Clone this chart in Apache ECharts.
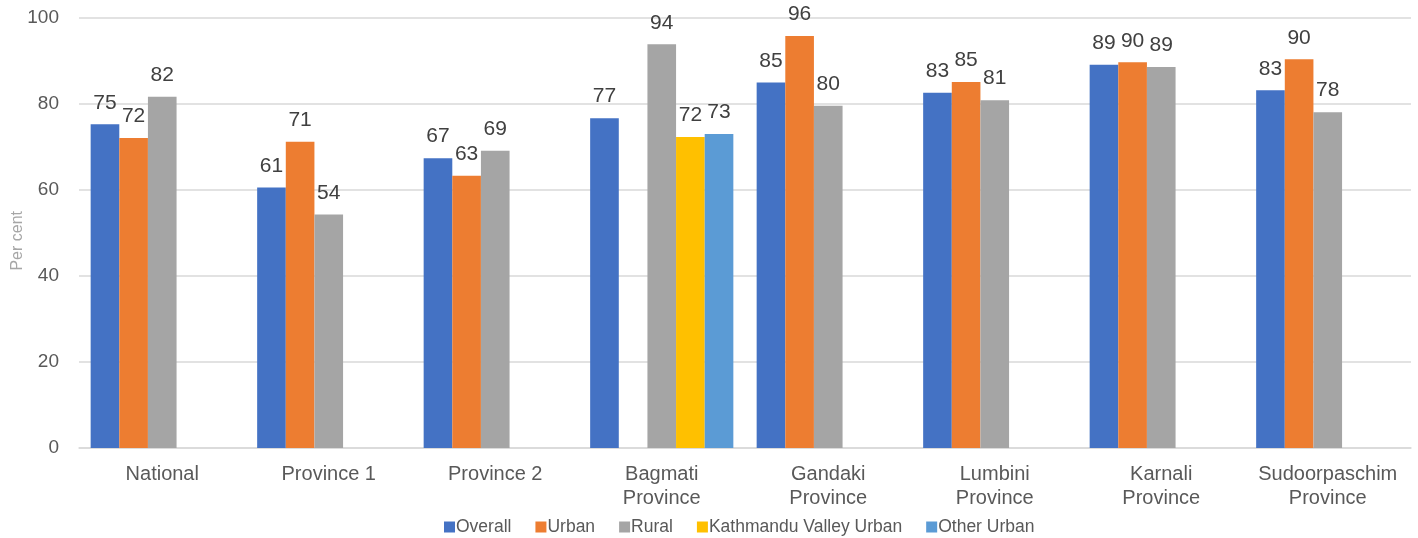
<!DOCTYPE html>
<html>
<head>
<meta charset="utf-8">
<script src="https://cdn.jsdelivr.net/npm/echarts@6/dist/echarts.min.js"></script>
<style>html,body{margin:0;padding:0;background:#fff;}#c{width:1418px;height:538px;}</style>
</head>
<body>
<div id="c"></div>
<script>
const categories = ['National','Province 1','Province 2','Bagmati\nProvince','Gandaki\nProvince','Lumbini\nProvince','Karnali\nProvince','Sudoorpaschim\nProvince'];
const overall = [75.3, 60.6, 67.4, 76.7, 85.0, 82.6, 89.1, 83.2];
const urban = [72.1, 71.2, 63.3, null, 95.8, 85.1, 89.7, 90.4];
const rural = [81.7, 54.3, 69.1, 93.9, 79.6, 80.9, 88.6, 78.1];
const kvUrban = [null, null, null, 72.3, null, null, null, null];
const otherUrban = [null, null, null, 73.0, null, null, null, null];
const yTicks = [0, 20, 40, 60, 80, 100];
const yAxisTitle = 'Per cent';

const FONT = '"Liberation Sans", Arial, sans-serif';
const chart = echarts.init(document.getElementById('c'));
const lbl = {
  show: true, position: 'top', distance: 11,
  color: '#404040', fontSize: 21, fontFamily: FONT,
  formatter: p => (p.value == null ? '' : Math.round(p.value))
};
function s(name, data, color) {
  return { name, type: 'bar', data, itemStyle: { color }, label: lbl,
    barGap: '0%', barCategoryGap: '14%', emphasis: { disabled: true } };
}
chart.setOption({
  animation: false,
  grid: { left: 79, right: 7, top: 18, bottom: 90, containLabel: false, outerBoundsMode: 'none' },
  graphic: [{
    type: 'text', left: 10, top: 211, rotation: Math.PI / 2, silent: true,
    style: { text: yAxisTitle, fill: '#a6a6a6', fontSize: 16, fontFamily: FONT }
  }],
  legend: {
    top: 513, left: 439, itemWidth: 11, itemHeight: 11, itemGap: 24,
    icon: 'rect',
    textStyle: { color: '#595959', fontSize: 17.5, fontFamily: FONT, padding: [0, 0, 0, -4] },
    data: ['Overall','Urban','Rural','Kathmandu Valley Urban','Other Urban']
  },
  xAxis: {
    type: 'category', data: categories,
    axisLine: { lineStyle: { color: '#d9d9d9', width: 1.5 } },
    axisTick: { show: false },
    axisLabel: { color: '#595959', fontSize: 20, fontFamily: FONT, margin: 14, lineHeight: 24, interval: 0 }
  },
  yAxis: {
    type: 'value', min: yTicks[0], max: yTicks[yTicks.length - 1], interval: 20,
    axisLine: { show: false }, axisTick: { show: false },
    axisLabel: { color: '#595959', fontSize: 19, fontFamily: FONT, margin: 20 },
    splitLine: { lineStyle: { color: '#d9d9d9', width: 1.5 } }
  },
  series: [
    s('Overall', overall, '#4472c4'),
    s('Urban', urban, '#ed7d31'),
    s('Rural', rural, '#a5a5a5'),
    s('Kathmandu Valley Urban', kvUrban, '#ffc000'),
    s('Other Urban', otherUrban, '#5b9bd5')
  ]
});
</script>
</body>
</html>
